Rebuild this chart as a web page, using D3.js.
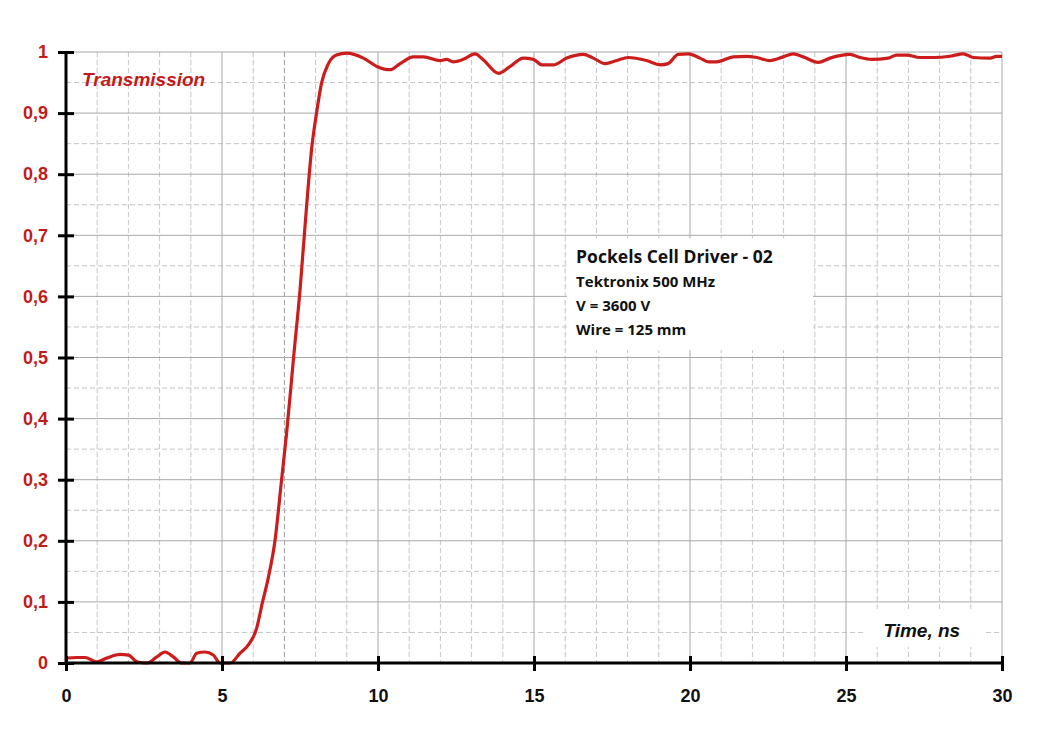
<!DOCTYPE html>
<html>
<head>
<meta charset="utf-8">
<script src="https://cdn.jsdelivr.net/npm/d3@7"></script>
<style>
  body { margin: 0; background: #fff; }
  svg { display: block; }
  .tick-y text { font-family: "Liberation Sans", Arial, sans-serif; font-weight: bold; font-size: 18px; fill: #c41a1a; }
  .tick-x text { font-family: "Liberation Sans", Arial, sans-serif; font-weight: bold; font-size: 18px; fill: #111; }
</style>
</head>
<body>
<svg id="chart" width="1041" height="734"></svg>
<script>
// trace: time in ns, transmission 0..1
const timeNs = [
  0, 0.34, 0.61, 0.98, 1.3, 1.73, 2.0, 2.27, 2.59, 2.91, 3.17, 3.44, 3.71, 3.97,
  4.19, 4.45, 4.72, 4.94, 5.26, 5.58, 5.85, 6.1, 6.3, 6.49, 6.7, 6.91, 7.07, 7.3,
  7.5, 7.71, 7.87, 8.03, 8.19, 8.41, 8.67, 9.0, 9.53, 9.98, 10.38, 10.71, 11.13,
  11.46, 11.99, 12.2, 12.41, 12.73, 13.11, 13.38, 13.86, 14.23, 14.66, 14.98,
  15.25, 15.62, 16.05, 16.58, 16.9, 17.28, 17.65, 18.02, 18.61, 19.05, 19.3,
  19.62, 19.95, 20.32, 20.59, 20.85, 21.39, 21.82, 22.14, 22.56, 22.99, 23.31,
  23.63, 24.11, 24.49, 25.13, 25.45, 25.82, 26.35, 26.62, 26.94, 27.37, 27.8,
  28.33, 28.76, 29.08, 29.62, 29.83, 30
];
const transmission = [
  0.008, 0.009, 0.009, 0.002, 0.008, 0.014, 0.013, 0.002, 0, 0.010, 0.018, 0.010, 0, 0,
  0.016, 0.018, 0.013, 0, 0, 0.016, 0.03, 0.055, 0.1, 0.141, 0.201, 0.30, 0.376, 0.503,
  0.61, 0.747, 0.84, 0.90, 0.949, 0.981, 0.995, 0.998, 0.99, 0.976, 0.971, 0.981, 0.992,
  0.992, 0.986, 0.988, 0.984, 0.988, 0.997, 0.987, 0.965, 0.976, 0.99, 0.988,
  0.979, 0.979, 0.99, 0.996, 0.99, 0.981, 0.986, 0.991, 0.986, 0.979, 0.981,
  0.996, 0.997, 0.99, 0.984, 0.984, 0.992, 0.993, 0.991, 0.986, 0.992, 0.997,
  0.992, 0.983, 0.99, 0.996, 0.991, 0.988, 0.99, 0.995, 0.995, 0.991, 0.991,
  0.993, 0.997, 0.991, 0.99, 0.993, 0.993
];

const xTicks = [0, 5, 10, 15, 20, 25, 30];
const yTicks = [0, 0.1, 0.2, 0.3, 0.4, 0.5, 0.6, 0.7, 0.8, 0.9, 1];
const xMinor = d3.range(1, 30).filter(v => v % 5 !== 0);
const yMinor = d3.range(0.05, 1, 0.1);

const infoLines = ["Pockels Cell Driver - 02", "Tektronix 500 MHz", "V = 3600 V", "Wire = 125 mm"];

// plot box in page pixels
const margin = { top: 52, right: 39, bottom: 71, left: 66 };
const width = 1041 - margin.left - margin.right;
const height = 734 - margin.top - margin.bottom;

const svg = d3.select("#chart");
const g = svg.append("g").attr("transform", `translate(${margin.left},${margin.top})`);

const x = d3.scaleLinear().domain([0, 30]).range([0, width]);
const y = d3.scaleLinear().domain([0, 1]).range([height, 0]);

// minor grid, dashed
g.append("g").selectAll("line").data(xMinor).join("line")
  .attr("x1", d => x(d)).attr("x2", d => x(d)).attr("y1", 0).attr("y2", height)
  .attr("stroke", d => d === 7 ? "#999" : "#c4c4c4").attr("stroke-width", 1)
  .attr("stroke-dasharray", "5,3");
g.append("g").selectAll("line").data(yMinor).join("line")
  .attr("x1", 0).attr("x2", width).attr("y1", d => y(d)).attr("y2", d => y(d))
  .attr("stroke", "#c4c4c4").attr("stroke-width", 1)
  .attr("stroke-dasharray", "5,3");

// major grid, solid
g.append("g").selectAll("line").data(xTicks.slice(1)).join("line")
  .attr("x1", d => x(d)).attr("x2", d => x(d)).attr("y1", 0).attr("y2", height)
  .attr("stroke", "#a8a8a8").attr("stroke-width", 1);
g.append("g").selectAll("line").data(yTicks.slice(1)).join("line")
  .attr("x1", 0).attr("x2", width).attr("y1", d => y(d)).attr("y2", d => y(d))
  .attr("stroke", "#a8a8a8").attr("stroke-width", 1);

// white boxes behind the labels hide the grid
g.append("rect").attr("x", x(16.05)).attr("y", y(0.695)).attr("width", x(23.95) - x(16.05))
  .attr("height", y(0.512) - y(0.695)).attr("fill", "#fff");
g.append("rect").attr("x", x(25.6)).attr("y", y(0.087)).attr("width", x(29.4) - x(25.6))
  .attr("height", y(0.026) - y(0.087)).attr("fill", "#fff");

// the trace
const line = d3.line()
  .x((d, i) => x(timeNs[i]))
  .y(d => y(d))
  .curve(d3.curveMonotoneX);

g.append("path")
  .datum(transmission)
  .attr("fill", "none")
  .attr("stroke", "#cc1d1d")
  .attr("stroke-width", 3.2)
  .attr("stroke-linejoin", "round")
  .attr("d", line);

// axes
const xAxis = g.append("g").attr("class", "tick-x")
  .attr("transform", `translate(0,${height})`)
  .call(d3.axisBottom(x).tickValues(xTicks).tickSize(0).tickPadding(26).tickFormat(d3.format("d")));
xAxis.select(".domain").remove();
xAxis.selectAll(".tick").append("line").attr("y1", -7).attr("y2", 8)
  .attr("stroke", "#000").attr("stroke-width", 3);

const yAxis = g.append("g").attr("class", "tick-y")
  .call(d3.axisLeft(y).tickValues(yTicks).tickSize(0).tickPadding(18)
    .tickFormat(d => d === 0 || d === 1 ? String(d) : d3.format(".1f")(d).replace(".", ",")));
yAxis.select(".domain").remove();
yAxis.selectAll(".tick").append("line").attr("x1", -8).attr("x2", 8)
  .attr("stroke", "#000").attr("stroke-width", 3);

g.append("line").attr("x1", 0).attr("x2", width).attr("y1", height).attr("y2", height)
  .attr("stroke", "#000").attr("stroke-width", 3);
g.append("line").attr("x1", 0).attr("x2", 0).attr("y1", -1).attr("y2", height + 1)
  .attr("stroke", "#000").attr("stroke-width", 3);

// labels
g.append("text")
  .attr("x", 16).attr("y", y(0.944))
  .attr("font-family", "'Liberation Sans', Arial, sans-serif")
  .attr("font-size", 19).attr("font-weight", "bold").attr("font-style", "italic")
  .attr("fill", "#c41a1a")
  .text("Transmission");

g.append("text")
  .attr("x", x(26.2)).attr("y", y(0.042))
  .attr("font-family", "'Liberation Sans', Arial, sans-serif")
  .attr("font-size", 19).attr("font-weight", "bold").attr("font-style", "italic")
  .attr("fill", "#111")
  .text("Time, ns");

const info = g.append("g").attr("transform", `translate(${x(16.35)},0)`);
info.selectAll("text").data(infoLines).join("text")
  .attr("x", 0)
  .attr("y", (d, i) => y(0.655) + (i === 0 ? 0 : 24 + (i - 1) * 24))
  .attr("font-family", "'Open Sans', 'Noto Sans', sans-serif")
  .attr("font-weight", 700)
  .attr("font-size", (d, i) => i === 0 ? 17.5 : 15)
  .attr("fill", "#111")
  .text(d => d);
</script>
</body>
</html>
